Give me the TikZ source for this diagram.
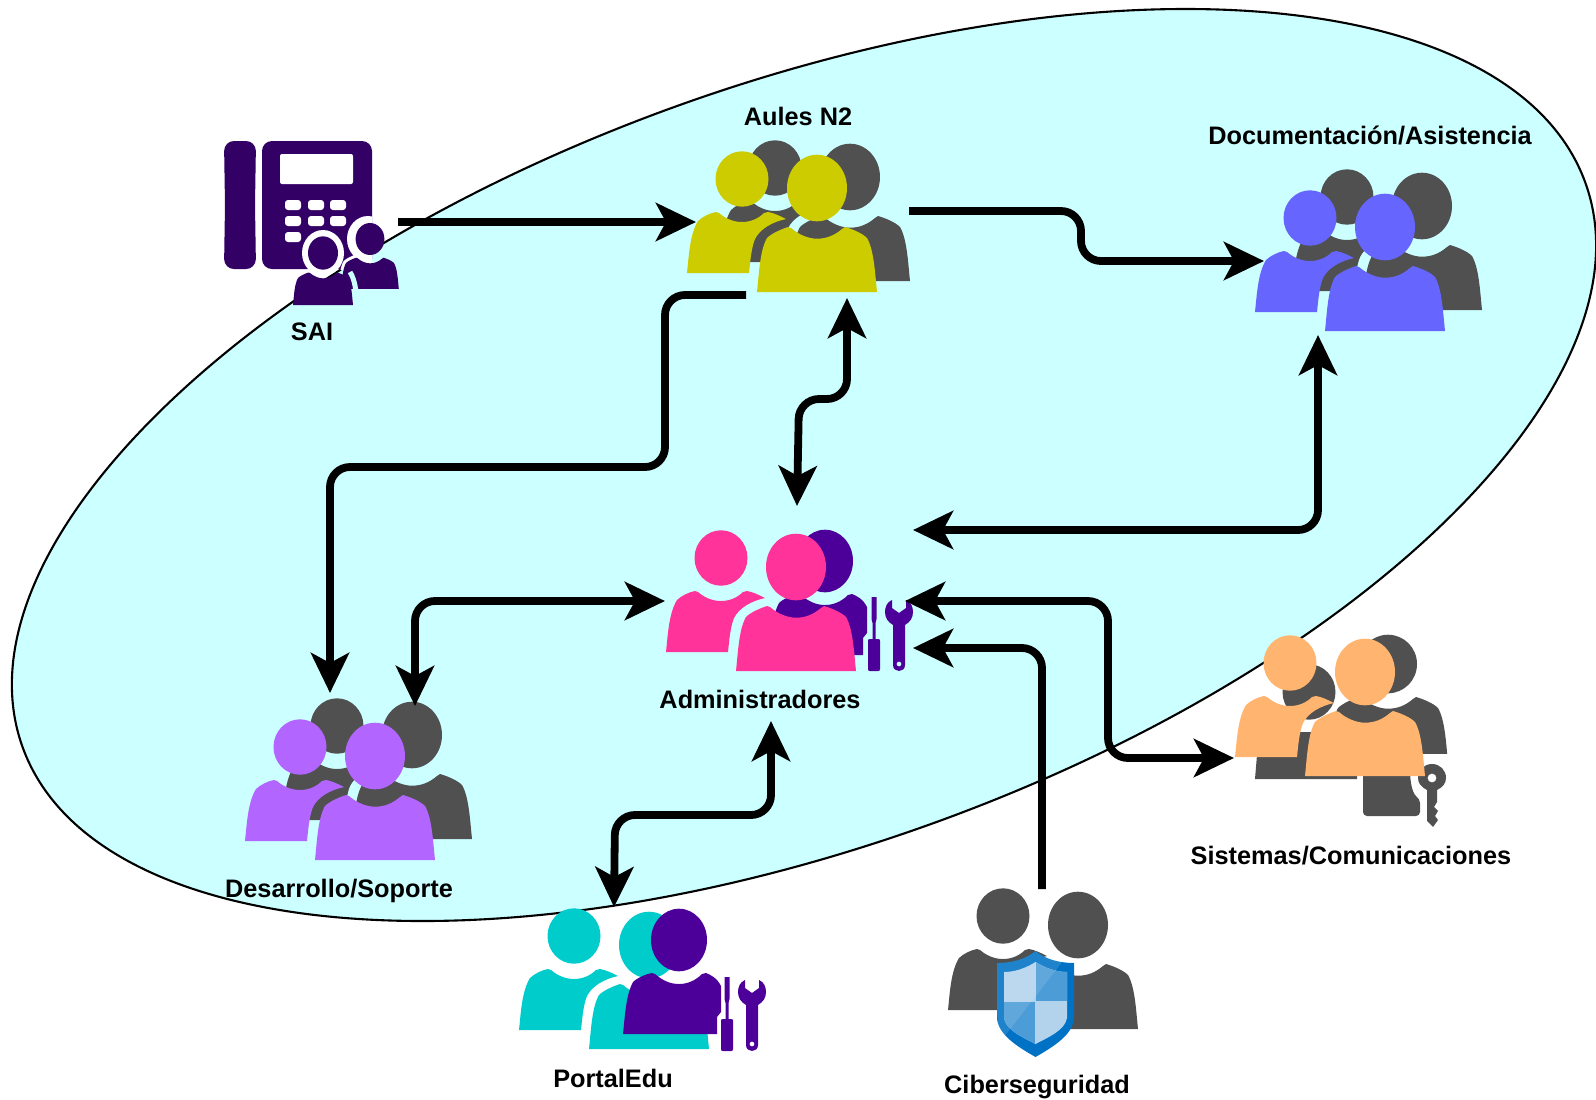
\documentclass[tikz,border=0pt]{standalone}
\usepackage{fontspec}
\setmainfont{Liberation Sans}
\usetikzlibrary{arrows.meta}
\definecolor{skyzone}{HTML}{CCFFFF}
\definecolor{slategrey}{HTML}{505050}
\definecolor{phonepurple}{HTML}{330066}
\definecolor{techpurple}{HTML}{4C0099}
\definecolor{aulesyellow}{HTML}{CCCC00}
\definecolor{docblue}{HTML}{6666FF}
\definecolor{devlilac}{HTML}{B266FF}
\definecolor{adminpink}{HTML}{FF3399}
\definecolor{portalteal}{HTML}{00CCCC}
\definecolor{sysorange}{HTML}{FFB570}
\definecolor{shielddark}{HTML}{0072C6}
\definecolor{shieldmid}{HTML}{4B9CD7}
\definecolor{shieldpale}{HTML}{B3D3EC}
\tikzset{
	conn/.style={line width=3.9pt, rounded corners=10pt},
	oneway/.style={conn, -{Stealth[length=20pt,width=19pt,inset=5pt]}},
	twoway/.style={conn, {Stealth[length=20pt,width=19pt,inset=5pt]}-{Stealth[length=20pt,width=19pt,inset=5pt]}},
	grouplabel/.style={font=\fontsize{12.65}{14}\selectfont\bfseries, text=black, inner sep=0pt}
}
\def\bigbody[#1](#2){\filldraw[shift={(#2)},#1]
	(-60,104) .. controls (-58,85) and (-57,62) .. (-50,50) .. controls (-45,45) and (-35,41) .. (-29,39) -- (-26,40) .. controls (-18,47) and (-8,50.7) .. (0,50.7) .. controls (10,50.7) and (18,47) .. (25,41) -- (28,39) .. controls (35,41) and (45,45) .. (50,50) .. controls (57,62) and (58,85) .. (60,104) -- cycle;}
\def\bigperson[#1](#2){\fill[shift={(#2)},#1] (0,0) ellipse (30 and 33.3);\bigbody[draw=none,#1](#2)}
\def\smallperson[#1](#2){\fill[shift={(#2)},#1] (0,0) ellipse (26.5 and 27.7)
	(-55,94) .. controls (-53,75) and (-52,55) .. (-44,42) .. controls (-40,38) and (-32,34) .. (-26,33) -- (-23,34) .. controls (-16,40) and (-8,43) .. (0,43) .. controls (8,43) and (16,40) .. (22,34) -- (26,33) .. controls (32,34) and (38,37) .. (44,40) .. controls (30,43) and (18,50) .. (13,60) .. controls (9,70) and (8,85) .. (7,94) -- cycle;}
\def\techperson[#1](#2){\fill[shift={(#2)},#1] (0,0) ellipse (28 and 31.3)
	(-56,94) .. controls (-54,75) and (-53,55) .. (-46,42) .. controls (-42,38) and (-33,34) .. (-27,33) -- (-24,34) .. controls (-16,41) and (-8,44) .. (0,44) .. controls (8,44) and (16,41) .. (23,34) -- (27,33) .. controls (32,35) and (38,38) .. (42,46) -- (42,72) -- (38,77) -- (38,94) -- cycle;}
\def\staffpair[#1](#2){\begin{scope}[shift={(#2)}]
	\bigperson[#1](0,0)
	\smallperson[#1](-75,-9)
	\end{scope}}
\def\toolset(#1){\fill[techpurple,even odd rule,shift={(#1)}]
	(-2.5,0) -- (2.5,0) -- (2.5,22) -- (1.5,26) -- (1.5,42) -- (4,42) .. controls (6,42) and (6,43) .. (6,44) -- (6,72) .. controls (6,74) and (5,74) .. (4,74) -- (-4,74) .. controls (-5,74) and (-6,74) .. (-6,72) -- (-6,44) .. controls (-6,43) and (-6,42) .. (-4,42) -- (-1.5,42) -- (-1.5,26) -- (-2.5,22) -- cycle
	(18,3) -- (18,11) -- (25,16) -- (32,11) -- (32,3) .. controls (37,5) and (39,10) .. (39,15) .. controls (39,21) and (36,25) .. (31,28) -- (31,68) .. controls (31,76) and (19,76) .. (19,68) -- (19,28) .. controls (14,25) and (11,21) .. (11,15) .. controls (11,10) and (13,5) .. (18,3) -- cycle
	(25,67) circle (2.5);}

\begin{document}
\begin{tikzpicture}[x=0.5pt,y=-0.5pt]
	%%%%% START %%%%%
	\useasboundingbox (0,0) rectangle (1596,1099);
	
	\draw[fill=skyzone, line width=1.05pt, shift={(804,465)}, rotate=19.86] (0,0) ellipse (830.8 and 380.8);
	
	% SAI phone
	\fill[phonepurple, rounded corners=5pt] (224,141) -- (225,205) -- (224,269) -- (256,269) -- (255,205) -- (256,141) -- cycle;
	\fill[phonepurple, rounded corners=5pt] (262,141) rectangle (372,269);
	\fill[white, rounded corners=1pt] (280,154) rectangle (353,184);
	\fill[white, rounded corners=1.5pt] (285,200) rectangle (301,210);
	\fill[white, rounded corners=1.5pt] (308,200) rectangle (324,210);
	\fill[white, rounded corners=1.5pt] (330,200) rectangle (346,210);
	\fill[white, rounded corners=1.5pt] (285,216) rectangle (301,226);
	\fill[white, rounded corners=1.5pt] (308,216) rectangle (324,226);
	\fill[white, rounded corners=1.5pt] (330,216) rectangle (346,226);
	\fill[white, rounded corners=1.5pt] (285,232) rectangle (301,242);
	\begin{scope}
		\clip (262,141) rectangle (372,269);
		\fill[white] (368,239) ellipse (21 and 23);
		\bigbody[fill=white,draw=white,line width=3pt,scale=.5](323,253)
		\bigbody[fill=white,draw=white,line width=3pt,scale=.48](370,239)
	\end{scope}
	\bigperson[phonepurple,scale=.48](370,239)
	\fill[white] (323,253) ellipse (21 and 23);
	\bigperson[phonepurple,scale=.5](323,253)
	\draw[skyzone, line width=2.5pt] (357,303) .. controls (356,290) and (355,280) .. (350,272);
	
	% Aules N2
	\staffpair[slategrey](850,177)
	\staffpair[aulesyellow](817,188)
	
	% Documentacion
	\staffpair[slategrey](1422,206)
	\staffpair[docblue](1385,227)
	
	% Desarrollo
	\staffpair[slategrey](412,735)
	\staffpair[devlilac](375,756)
	
	% Administradores
	\techperson[techpurple](825,561)
	\toolset(874,597)
	\staffpair[adminpink](796,567)
	
	% PortalEdu
	\staffpair[portalteal](649,945)
	\techperson[techpurple](679,940)
	\toolset(727,977)
	
	% Ciberseguridad
	\staffpair[slategrey](1078,925)
	\fill[shielddark] (1035.5,951) .. controls (1025,960) and (1010,963) .. (997,963) -- (997,1017) .. controls (997,1035) and (1020,1048) .. (1035.5,1057) .. controls (1051,1048) and (1074,1035) .. (1074,1017) -- (1074,963) .. controls (1061,963) and (1046,960) .. (1035.5,951) -- cycle;
	\begin{scope}
		\clip (1035.5,962) .. controls (1026,968) and (1015,972) .. (1004,972) -- (1004,1018) .. controls (1006,1030) and (1022,1037) .. (1035.5,1044) .. controls (1049,1037) and (1065,1030) .. (1067,1018) -- (1067,972) .. controls (1056,972) and (1045,968) .. (1035.5,962) -- cycle;
		\fill[shieldpale] (990,950) rectangle (1080,1050);
		\fill[shieldmid] (1036,950) rectangle (1080,1001);
		\fill[shieldmid] (990,1002) rectangle (1035,1050);
	\end{scope}
	\begin{scope}
		\clip (1035.5,951) .. controls (1025,960) and (1010,963) .. (997,963) -- (997,1017) .. controls (997,1035) and (1020,1048) .. (1035.5,1057) .. controls (1051,1048) and (1074,1035) .. (1074,1017) -- (1074,963) .. controls (1061,963) and (1046,960) .. (1035.5,951) -- cycle;
		\fill[white, opacity=.12] (990,945) -- (1070,952) -- (1000,1042) -- cycle;
	\end{scope}
	
	% Sistemas
	\fill[slategrey] (1309,692) ellipse (26.5 and 27.7);
	\fill[slategrey] (1296,732) rectangle (1340,779);
	\fill[slategrey] (1257,755) -- (1300,755) -- (1300,770) -- (1357,770) -- (1357,779) -- (1255,779) -- cycle;
	\fill[slategrey] (1388,664) ellipse (29 and 29.3);
	\begin{scope}
		\clip (1320,600) rectangle (1460,753);
		\bigbody[slategrey,draw=none](1388,658)
	\end{scope}
	\fill[slategrey, rounded corners=2pt] (1363,765) -- (1363,816) -- (1420,816) -- (1420,799) .. controls (1414,795) and (1410,787) .. (1410,765) -- cycle;
	\fill[slategrey, even odd rule] (1427,790) -- (1427,821) -- (1433,827) -- (1438,820) -- (1435,816) -- (1438,811) -- (1434,807) -- (1437,802) -- (1437,790) .. controls (1443,787) and (1446,783) .. (1446,778) .. controls (1446,770) and (1440,764) .. (1432,764) .. controls (1424,764) and (1418,770) .. (1418,778) .. controls (1418,783) and (1421,787) .. (1427,790) -- cycle (1432,778) circle (4.5);
	\staffpair[sysorange](1365,672)
	
	% labels
	\node[grouplabel] (lblsai) at (312,332) {SAI};
	\node[grouplabel] (lblaules) at (798,116) {Aules N2};
	\node[grouplabel] (lbldoc) at (1370,135) {Documentación/Asistencia};
	\node[grouplabel] (lbladmin) at (760,699) {Administradores};
	\node[grouplabel] (lbldev) at (339,891) {Desarrollo/Soporte};
	\node[grouplabel] (lblsys) at (1351,856) {Sistemas/Comunicaciones};
	\node[grouplabel] (lblportal) at (613,1078) {PortalEdu};
	\node[grouplabel] (lblcib) at (1037,1087) {Ciberseguridad};
	
	% connector ends
	\coordinate (saiout) at (398,222);
	\coordinate (aulesin) at (696,222);
	\coordinate (aulesout) at (909,211);
	\coordinate (aulesleft) at (746,295);
	\coordinate (aulesdown) at (847,298);
	\coordinate (docin) at (1264,261);
	\coordinate (docdown) at (1318,335);
	\coordinate (adminup) at (797,506);
	\coordinate (adminright) at (913,530);
	\coordinate (adminleft) at (665,601);
	\coordinate (admintool) at (905,601);
	\coordinate (adminlow) at (913,648);
	\coordinate (admindown) at (771,721);
	\coordinate (devone) at (330,693);
	\coordinate (devtwo) at (415,706);
	\coordinate (sysin) at (1234,758);
	\coordinate (cibup) at (1042,889);
	\coordinate (portalup) at (614,907);
	\coordinate (bendaules) at (1081,261);
	\coordinate (benddev) at (665,467);
	\coordinate (bendadmin) at (799,399);
	\coordinate (bendsys) at (1108,758);
	\coordinate (bendportal) at (615,815);
	
	% connectors
	\draw[oneway] (saiout) -- (aulesin);
	\draw[oneway] (aulesout) -| (bendaules) -- (docin);
	\draw[oneway] (aulesleft) -| (benddev) -| (devone);
	\draw[twoway] (aulesdown) |- (bendadmin) -- (adminup);
	\draw[twoway] (adminright) -| (docdown);
	\draw[twoway] (devtwo) |- (adminleft);
	\draw[twoway] (admintool) -| (bendsys) -- (sysin);
	\draw[oneway] (cibup) |- (adminlow);
	\draw[twoway] (admindown) |- (bendportal) -- (portalup);
	
	%%%%% END %%%%%
\end{tikzpicture}
\end{document}
